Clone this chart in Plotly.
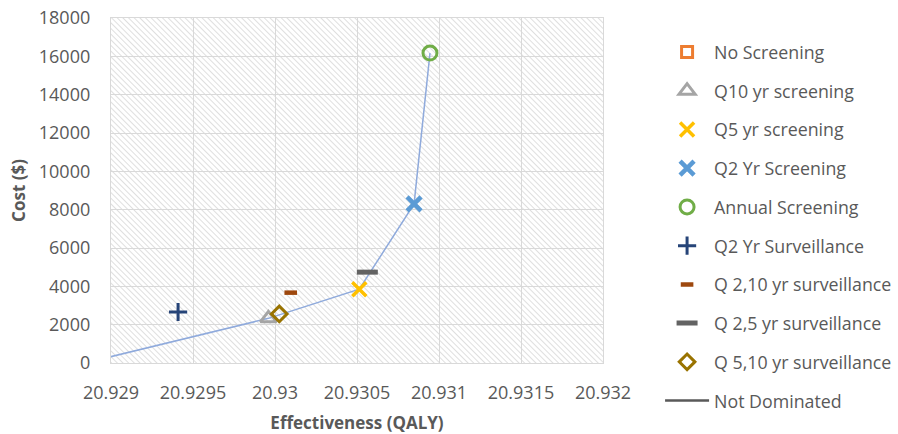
import base64
import plotly.graph_objects as go

# Cost-effectiveness results per strategy (QALY, cost in $)
strategies = [
    "No Screening", "Q10 yr screening", "Q5 yr screening", "Q2 Yr Screening",
    "Annual Screening", "Q2 Yr Surveillance", "Q 2,10 yr surveillance",
    "Q 2,5 yr surveillance", "Q 5,10 yr surveillance",
]
effectiveness = [
    20.92884, 20.92996, 20.930514, 20.930848,
    20.930945, 20.929409, 20.930096, 20.930563, 20.930026,
]
cost = [0, 2330, 3850, 8300, 16170, 2660, 3670, 4740, 2560]

# Efficient frontier (non-dominated strategies, in order)
frontier = ["No Screening", "Q10 yr screening", "Q5 yr screening",
            "Q2 Yr Screening", "Annual Screening"]

# Axis ticks
x_ticks = [20.929, 20.9295, 20.93, 20.9305, 20.931, 20.9315, 20.932]
x_tick_labels = ["20.929", "20.9295", "20.93", "20.9305", "20.931", "20.9315", "20.932"]
y_ticks = [0, 2000, 4000, 6000, 8000, 10000, 12000, 14000, 16000, 18000]
y_tick_labels = ["0", "2000", "4000", "6000", "8000", "10000", "12000",
                 "14000", "16000", "18000"]

styles = {
    "No Screening": dict(symbol="square-open", color="#ED7D31", size=11, width=3),
    "Q10 yr screening": dict(symbol="triangle-up-open", color="#A5A5A5", size=14, width=3),
    "Q5 yr screening": dict(symbol="x-thin-open", color="#FFC000", size=14, width=3.5),
    "Q2 Yr Screening": dict(symbol="x-thin-open", color="#5B9BD5", size=14, width=4.5),
    "Annual Screening": dict(symbol="circle-open", color="#70AD47", size=14, width=3),
    "Q2 Yr Surveillance": dict(symbol="cross-thin-open", color="#264478", size=13, width=3),
    "Q 2,10 yr surveillance": dict(symbol="line-ew-open", color="#9E480E", size=9, width=4.5),
    "Q 2,5 yr surveillance": dict(symbol="line-ew-open", color="#636363", size=15, width=5),
    "Q 5,10 yr surveillance": dict(symbol="diamond-open", color="#997300", size=12, width=3),
}

TEXT = "#595959"
GRID = "#D9D9D9"
FONT = "Open Sans"

fig = go.Figure()

# Frontier line through the non-dominated strategies
idx = [strategies.index(s) for s in frontier]
fig.add_trace(go.Scatter(
    x=[effectiveness[i] for i in idx], y=[cost[i] for i in idx],
    mode="lines", line=dict(color="#8FAADC", width=1.5),
    showlegend=False, hoverinfo="skip",
))

for i, name in enumerate(strategies):
    st = styles[name]
    fig.add_trace(go.Scatter(
        x=[effectiveness[i]], y=[cost[i]], mode="markers", name=name,
        legendgroup=name,
        marker=dict(symbol=st["symbol"], size=st["size"], color=st["color"],
                    line=dict(color=st["color"], width=st["width"])),
    ))

# Legend entry for the frontier line
fig.add_trace(go.Scatter(
    x=[None], y=[None], mode="lines", name="Not Dominated",
    legendgroup="Not Dominated", line=dict(color="#595959", width=2.5),
))

# Diagonal hatching for the plot background
hatch_svg = (
    "<svg xmlns='http://www.w3.org/2000/svg' width='492' height='345'>"
    "<defs><pattern id='h' width='4' height='4' patternUnits='userSpaceOnUse' "
    "patternTransform='rotate(-45)'>"
    "<rect width='4' height='4' fill='white'/>"
    "<line x1='0' y1='0' x2='0' y2='4' stroke='#D2D2D2' stroke-width='1.4'/>"
    "</pattern></defs>"
    "<rect width='100%' height='100%' fill='url(#h)'/></svg>"
)
hatch_uri = "data:image/svg+xml;base64," + base64.b64encode(hatch_svg.encode()).decode()
fig.add_layout_image(dict(
    source=hatch_uri, xref="paper", yref="paper", x=0, y=1,
    sizex=1, sizey=1, xanchor="left", yanchor="top",
    sizing="stretch", layer="below",
))

fig.update_layout(
    width=898, height=434,
    margin=dict(l=111, r=295, t=18, b=71, autoexpand=False),
    paper_bgcolor="white", plot_bgcolor="white",
    font=dict(family=FONT, size=18, color=TEXT),
    legend=dict(
        x=1.116, xanchor="left", y=0.954, yanchor="top",
        itemwidth=44, tracegroupgap=12.6, traceorder="grouped",
        maxheight=430,
        font=dict(family=FONT, size=17.8, color=TEXT),
        bgcolor="rgba(0,0,0,0)",
    ),
)

fig.update_xaxes(
    range=[x_ticks[0], x_ticks[-1]], tickvals=x_ticks, ticktext=x_tick_labels,
    showgrid=True, gridcolor=GRID, gridwidth=1.3,
    showline=True, linecolor=GRID, linewidth=1.3, mirror=True,
    zeroline=False, ticks="", ticklabelstandoff=13,
    tickfont=dict(family=FONT, size=18, color=TEXT),
    title=dict(text="<b>Effectiveness (QALY)</b>", standoff=18,
               font=dict(family=FONT, size=17, color=TEXT)),
)
fig.update_yaxes(
    range=[y_ticks[0], y_ticks[-1]], tickvals=y_ticks, ticktext=y_tick_labels,
    showgrid=True, gridcolor=GRID, gridwidth=1.3,
    showline=True, linecolor=GRID, linewidth=1.3, mirror=True,
    zeroline=False, ticks="", ticklabelstandoff=16,
    tickfont=dict(family=FONT, size=18, color=TEXT),
    title=dict(text="<b>Cost ($)</b>", standoff=8,
               font=dict(family=FONT, size=17, color=TEXT)),
)

fig.write_html("out.html")
